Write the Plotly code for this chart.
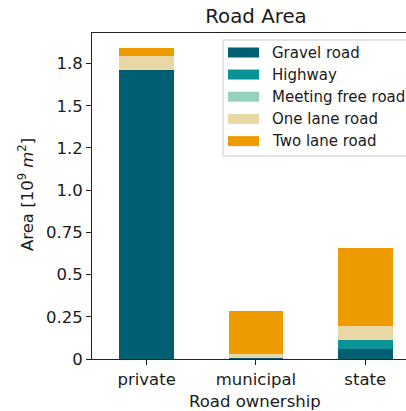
import plotly.graph_objects as go

# Road area by ownership, in 10^9 m^2
ownership = ["private", "municipal", "state"]
road_types = ["Gravel road", "Highway", "Meeting free road", "One lane road", "Two lane road"]
gravel_road = [1.71, 0.008, 0.059]
highway = [0.0, 0.0, 0.052]
meeting_free_road = [0.0, 0.0, 0.0]
one_lane_road = [0.085, 0.022, 0.087]
two_lane_road = [0.050, 0.253, 0.462]
colors = ["#005f73", "#0a9396", "#94d2bd", "#e9d8a6", "#ee9b00"]

y_tickvals = [0, 0.25, 0.5, 0.75, 1.0, 1.25, 1.5, 1.75]
y_ticktext = ["0", "0.25", "0.5", "0.75", "1.0", "1.2", "1.5", "1.8"]

series = [gravel_road, highway, meeting_free_road, one_lane_road, two_lane_road]

W, H = 406, 411
L, T, B, R = 92, 33, 52, 0
PW, PH = W - L - R, H - T - B
FONT = "DejaVu Sans"
INK = "#1a1a1a"
FS = 16.5
LEG_FS = 15


def px_x(p):
    return (p - L) / PW


def px_y(p):
    return (H - B - p) / PH


fig = go.Figure()
for name, vals, col in zip(road_types, series, colors):
    fig.add_trace(go.Bar(
        x=ownership, y=vals, name=name, width=0.5,
        marker=dict(color=col, line=dict(width=0)),
        showlegend=False,
    ))

# Legend box with wide swatches
shapes = [dict(type="rect", xref="paper", yref="paper",
               x0=px_x(223), x1=px_x(412), y0=px_y(156), y1=px_y(40),
               line=dict(color="#cccccc", width=1), fillcolor="rgba(255,255,255,0.85)",
               layer="above")]
annotations = []
row_y = [52.5, 74.5, 96.7, 118.9, 141.1]
for name, col, ry in zip(road_types, colors, row_y):
    shapes.append(dict(type="rect", xref="paper", yref="paper",
                       x0=px_x(228), x1=px_x(259), y0=px_y(ry + 5), y1=px_y(ry - 5),
                       line=dict(width=0), fillcolor=col, layer="above"))
    annotations.append(dict(text=name, xref="paper", yref="paper",
                            x=px_x(270), y=px_y(ry), xanchor="left", yanchor="middle",
                            showarrow=False, font=dict(family=FONT, size=LEG_FS, color=INK)))

annotations.append(dict(text="Area [10<sup>9</sup> <i>m</i><sup>2</sup>]", textangle=-90,
                        xref="paper", yref="paper", x=px_x(26), y=px_y(195),
                        xanchor="center", yanchor="middle", showarrow=False,
                        font=dict(family=FONT, size=FS, color=INK)))
annotations.append(dict(text="Road ownership", xref="paper", yref="paper",
                        x=px_x(255), y=px_y(401), xanchor="center", yanchor="middle",
                        showarrow=False, font=dict(family=FONT, size=FS, color=INK)))

fig.update_layout(
    width=W, height=H,
    margin=dict(l=L, r=R, t=T, b=B, pad=0),
    paper_bgcolor="white", plot_bgcolor="white",
    barmode="stack", bargap=0,
    title=dict(text="Road Area", xref="container", yref="container",
               x=256 / W, y=1 - 16.5 / H, xanchor="center", yanchor="middle",
               font=dict(family=FONT, size=19.8, color=INK)),
    font=dict(family=FONT, size=FS, color=INK),
    shapes=shapes, annotations=annotations,
)
fig.update_xaxes(
    type="category", range=[-0.5, 2.373],
    showline=True, linecolor="#222", linewidth=1, mirror=True,
    ticks="outside", ticklen=5, tickcolor="#222", tickwidth=1,
    showgrid=False, zeroline=False,
    tickfont=dict(family=FONT, size=FS, color=INK),
)
fig.update_yaxes(
    range=[0, 1.931], tickvals=y_tickvals, ticktext=y_ticktext,
    showline=True, linecolor="#222", linewidth=1,
    ticks="outside", ticklen=5, tickcolor="#222", tickwidth=1,
    showgrid=False, zeroline=False,
    tickfont=dict(family=FONT, size=FS, color=INK),
)

fig.write_html("out.html")
